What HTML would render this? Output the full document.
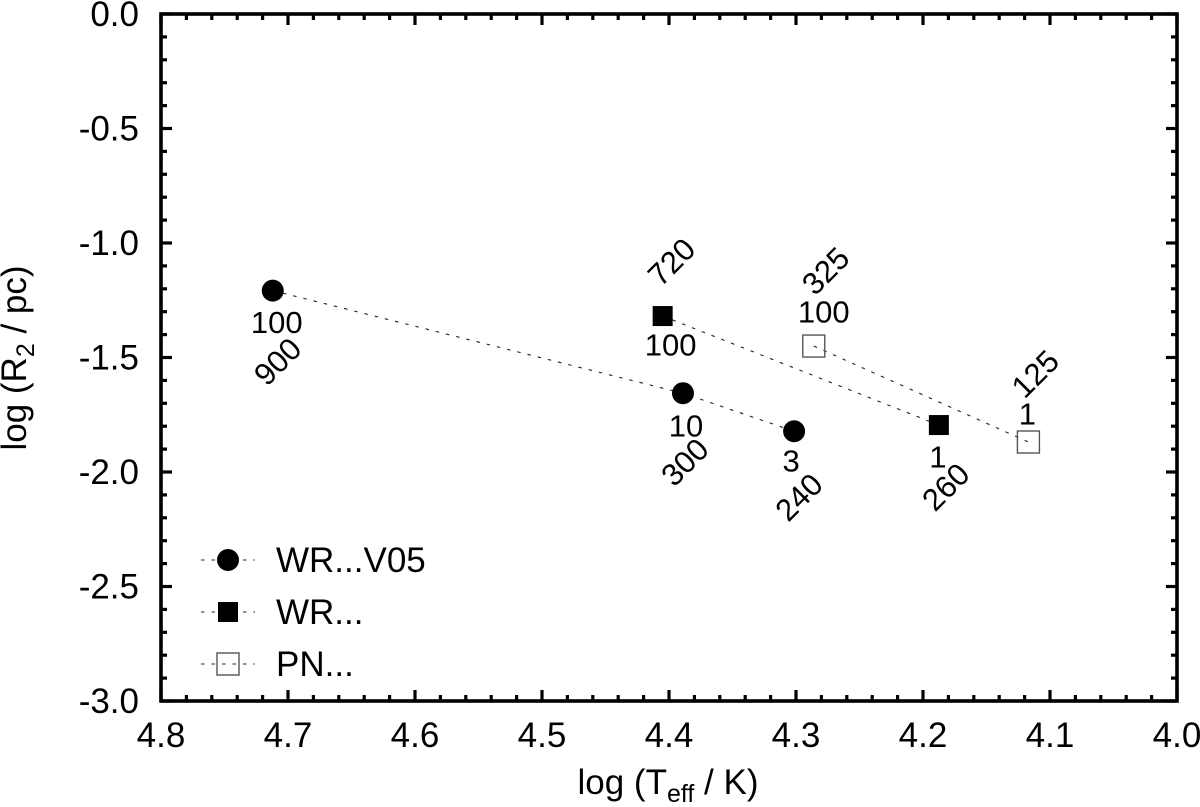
<!DOCTYPE html>
<html lang="en">
<head>
<meta charset="utf-8">
<title>log R2 versus log Teff</title>
<style>
html,body{margin:0;padding:0;background:#fff;}
body{width:1200px;height:807px;overflow:hidden;}
svg{display:block;filter:blur(0.35px);}
text{font-family:"Liberation Sans",sans-serif;fill:#000;}
</style>
</head>
<body>
<svg id="chart" xmlns="http://www.w3.org/2000/svg" width="1200" height="807" viewBox="0 0 1200 807">
<text x="668" y="794" text-anchor="middle" font-size="35">log (T<tspan font-size="25" dy="8">eff</tspan><tspan dy="-8"> / K)</tspan></text>
<text transform="translate(26,358) rotate(-90)" text-anchor="middle" font-size="35">log (R<tspan font-size="25" dy="8">2</tspan><tspan dy="-8"> / pc)</tspan></text>
</svg>
<script>
const xTickLabels = ['4.8', '4.7', '4.6', '4.5', '4.4', '4.3', '4.2', '4.1', '4.0'];
const yTickLabels = ['0.0', '-0.5', '-1.0', '-1.5', '-2.0', '-2.5', '-3.0'];

const seriesNames = ['WR...V05', 'WR...', 'PN...'];
const seriesKinds = ['circle', 'square', 'open-square'];

const wrV05LogT = [4.712, 4.389, 4.3015];
const wrV05LogR = [-1.208, -1.656, -1.822];
const wrV05MassLabels = ['100', '10', '3'];
const wrV05AgeLabels = ['900', '300', '240'];

const wrLogT = [4.405, 4.1875];
const wrLogR = [-1.319, -1.795];
const wrMassLabels = ['100', '1'];
const wrAgeLabels = ['720', '260'];

const pnLogT = [4.286, 4.117];
const pnLogR = [-1.45, -1.869];
const pnMassLabels = ['100', '1'];
const pnAgeLabels = ['325', '125'];

const svg = document.getElementById('chart');
const NS = 'http://www.w3.org/2000/svg';
const frame = { left: 161, right: 1177, top: 14, bottom: 701 };
const xDomain = [4.8, 4.0];
const yDomain = [0, -3];

function xScale(v) {
  return frame.left + (v - xDomain[0]) / (xDomain[1] - xDomain[0]) * (frame.right - frame.left);
}
function yScale(v) {
  return frame.top + (v - yDomain[0]) / (yDomain[1] - yDomain[0]) * (frame.bottom - frame.top);
}
function make(tag, attrs, parent) {
  const el = document.createElementNS(NS, tag);
  for (const k in attrs) el.setAttribute(k, attrs[k]);
  (parent || svg).appendChild(el);
  return el;
}

/* frame */
const plotFrame = make('rect', { x: frame.left, y: frame.top, width: frame.right - frame.left, height: frame.bottom - frame.top, fill: 'none', stroke: '#000', 'stroke-width': 3.6 });



/* ticks */
const xTickGroup = make('g', { stroke: '#000', 'stroke-width': 3.2 });


const xSteps = (xTickLabels.length - 1) * 5;
for (let i = 0; i <= xSteps; i++) {
  const v = xDomain[0] + (xDomain[1] - xDomain[0]) * i / xSteps;
  const len = i % 5 === 0 ? 11 : 6;
  const x = xScale(v);
  make('line', { x1: x, x2: x, y1: frame.bottom, y2: frame.bottom - len }, xTickGroup);
  make('line', { x1: x, x2: x, y1: frame.top, y2: frame.top + len }, xTickGroup);
}
const yTickGroup = make('g', { stroke: '#000', 'stroke-width': 3.2 });


const ySteps = (yTickLabels.length - 1) * 5;
for (let i = 0; i <= ySteps; i++) {
  const v = yDomain[0] + (yDomain[1] - yDomain[0]) * i / ySteps;
  const len = i % 5 === 0 ? 11 : 6;
  const y = yScale(v);
  make('line', { y1: y, y2: y, x1: frame.left, x2: frame.left + len }, yTickGroup);
  make('line', { y1: y, y2: y, x1: frame.right, x2: frame.right - len }, yTickGroup);
}

/* tick labels */
xTickLabels.forEach(function (label) {
  const t = make('text', { x: xScale(parseFloat(label)), y: 747, 'text-anchor': 'middle', 'font-size': 35 });
  t.textContent = label;
  
  
});
yTickLabels.forEach(function (label) {
  const t = make('text', { x: 139, y: yScale(parseFloat(label)) + 12, 'text-anchor': 'end', 'font-size': 35 });
  t.textContent = label;
  
  
});

/* marker drawing */
function drawMarker(kind, cx, cy, parent) {
  if (kind === 'circle') {
    return make('circle', { cx: cx, cy: cy, r: 11, fill: '#000' }, parent);
  }
  if (kind === 'square') {
    return make('rect', { x: cx - 10, y: cy - 10, width: 20, height: 20, fill: '#000' }, parent);
  }
  return make('rect', { x: cx - 11, y: cy - 11, width: 22, height: 22, fill: 'none', stroke: '#555', 'stroke-width': 1.4 }, parent);
}
function drawSeriesLine(logT, logR, parent) {
  const pts = logT.map(function (t, i) { return xScale(t) + ',' + yScale(logR[i]); }).join(' ');
  return make('polyline', { points: pts, fill: 'none', stroke: '#222', 'stroke-width': 1.1, 'stroke-dasharray': '3.5 7' }, parent);
}
function drawLabel(text, x, y, rotated, size, parent) {
  const attrs = { x: x, y: y, 'text-anchor': 'middle', 'dominant-baseline': 'central', 'font-size': size };
  if (rotated) attrs.transform = 'rotate(-45 ' + x + ' ' + y + ')';
  const t = make('text', attrs, parent);
  t.textContent = text;
  return t;
}

/* WR V05 series */
const wrV05Group = make('g', {});


drawSeriesLine(wrV05LogT, wrV05LogR, wrV05Group);
const wrV05MassShift = [[4, 32], [3, 33], [-3, 30]];
const wrV05AgeShift = [[5, 71], [2, 69], [5, 66]];
wrV05LogT.forEach(function (t, i) {
  const x = xScale(t), y = yScale(wrV05LogR[i]);
  const m = drawMarker(seriesKinds[0], x, y, wrV05Group);
  
  
  const a = drawLabel(wrV05MassLabels[i], x + wrV05MassShift[i][0], y + wrV05MassShift[i][1], false, 31, wrV05Group);
  
  
  const b = drawLabel(wrV05AgeLabels[i], x + wrV05AgeShift[i][0], y + wrV05AgeShift[i][1], true, 31, wrV05Group);
  
  
});

/* WR series */
const wrGroup = make('g', {});


drawSeriesLine(wrLogT, wrLogR, wrGroup);
const wrMassShift = [[8, 29], [-1, 32]];
const wrAgeShift = [[9, -54], [7, 62]];
wrLogT.forEach(function (t, i) {
  const x = xScale(t), y = yScale(wrLogR[i]);
  const m = drawMarker(seriesKinds[1], x, y, wrGroup);
  
  
  const a = drawLabel(wrMassLabels[i], x + wrMassShift[i][0], y + wrMassShift[i][1], false, 31, wrGroup);
  
  
  const b = drawLabel(wrAgeLabels[i], x + wrAgeShift[i][0], y + wrAgeShift[i][1], true, 31, wrGroup);
  
  
});

/* PN series */
const pnGroup = make('g', {});


drawSeriesLine(pnLogT, pnLogR, pnGroup);
const pnMassShift = [[10, -34], [-1, -28]];
const pnAgeShift = [[12, -75], [7, -68]];
pnLogT.forEach(function (t, i) {
  const x = xScale(t), y = yScale(pnLogR[i]);
  const m = drawMarker(seriesKinds[2], x, y, pnGroup);
  
  
  const a = drawLabel(pnMassLabels[i], x + pnMassShift[i][0], y + pnMassShift[i][1], false, 31, pnGroup);
  
  
  const b = drawLabel(pnAgeLabels[i], x + pnAgeShift[i][0], y + pnAgeShift[i][1], true, 31, pnGroup);
  
  
});

/* legend */
const legend = make('g', {});


seriesNames.forEach(function (name, i) {
  const y = 560 + i * 52;
  const entry = make('g', {}, legend);
  
  
  make('line', { x1: 201, x2: 255, y1: y, y2: y, stroke: '#222', 'stroke-width': 1.1, 'stroke-dasharray': '3.5 7' }, entry);
  drawMarker(seriesKinds[i], 228, y, entry);
  const t = make('text', { x: 276, y: y + 12, 'font-size': 35 }, entry);
  t.textContent = name;
});
</script>
</body>
</html>
